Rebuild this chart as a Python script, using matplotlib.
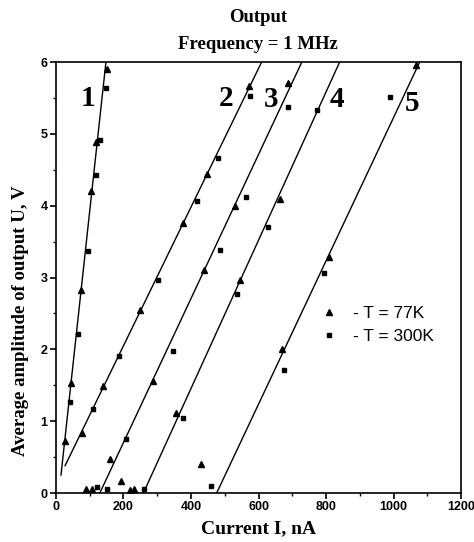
import matplotlib.pyplot as plt
from matplotlib.ticker import MultipleLocator

# T = 77K points (triangles)
t77_x = [27, 46, 73, 104, 120, 150,
         78, 138, 249, 377, 446, 573,
         160, 288, 439, 530, 688,
         356, 430, 545, 662,
         669, 810, 1067,
         89, 106, 193, 219, 232]
t77_y = [0.72, 1.53, 2.83, 4.20, 4.89, 5.90,
         0.83, 1.49, 2.55, 3.76, 4.44, 5.67,
         0.47, 1.56, 3.11, 4.00, 5.71,
         1.12, 0.40, 2.96, 4.10,
         2.00, 3.29, 5.96,
         0.05, 0.06, 0.17, 0.04, 0.05]

# T = 300K points (squares)
t300_x = [43, 65, 94, 120, 130, 147,
          111, 187, 303, 417, 479, 575,
          207, 346, 486, 563, 687,
          375, 458, 537, 627, 772,
          674, 794, 990,
          122, 150, 262]
t300_y = [1.27, 2.21, 3.37, 4.43, 4.92, 5.64,
          1.17, 1.91, 2.97, 4.06, 4.66, 5.53,
          0.75, 1.98, 3.38, 4.12, 5.38,
          1.05, 0.10, 2.77, 3.70, 5.34,
          1.71, 3.06, 5.51,
          0.09, 0.05, 0.06]

# fitted lines 1..5 (start and end)
fit_x0 = [15, 27, 130, 259, 476]
fit_y0 = [0.25, 0.38, 0.0, 0.0, 0.0]
fit_x1 = [148, 609, 728, 840, 1077]
fit_y1 = [6.0, 6.0, 6.0, 6.0, 6.0]

curve_names = ["1", "2", "3", "4", "5"]
name_x = [95, 504, 637, 833, 1055]
name_y = [5.50, 5.50, 5.48, 5.48, 5.43]

serif = "Liberation Serif"
sans = "Liberation Sans"

fig = plt.figure(figsize=(4.74, 5.42), dpi=100)
ax = fig.add_axes([0.118, 0.0904, 0.855, 0.795])

for i in range(len(fit_x0)):
    ax.plot([fit_x0[i], fit_x1[i]], [fit_y0[i], fit_y1[i]], color="black", lw=1.0)

ax.plot(t77_x, t77_y, "^", color="black", ms=4.5, ls="none", label="- T = 77K")
ax.plot(t300_x, t300_y, "s", color="black", ms=3.5, ls="none", label="- T = 300K")

for i in range(len(curve_names)):
    ax.text(name_x[i], name_y[i], curve_names[i], fontfamily=serif,
            fontweight="bold", fontsize=21, ha="center", va="center")

ax.set_xlim(0, 1200)
ax.set_ylim(0, 6)
ax.xaxis.set_major_locator(MultipleLocator(200))
ax.xaxis.set_minor_locator(MultipleLocator(100))
ax.yaxis.set_major_locator(MultipleLocator(1))
ax.yaxis.set_minor_locator(MultipleLocator(0.5))
ax.tick_params(which="major", length=4, width=1.2, direction="out", pad=2)
ax.tick_params(which="minor", length=2.5, width=1.0, direction="out")
for lab in ax.get_xticklabels() + ax.get_yticklabels():
    lab.set_fontfamily(sans)
    lab.set_fontweight("bold")
    lab.set_fontsize(9)
for s in ax.spines.values():
    s.set_linewidth(1.2)

ax.set_xlabel("Current I, nA", fontfamily=serif, fontweight="bold", fontsize=14, labelpad=5)
ax.set_ylabel("Average amplitude of output U, V", fontfamily=serif, fontweight="bold",
              fontsize=13.5)
ax.yaxis.set_label_coords(-0.066, 0.40)

fig.text(0.545, 0.968, "Output", fontfamily=serif, fontweight="bold", fontsize=13.5,
         ha="center", va="center")
fig.text(0.545, 0.917, "Frequency = 1 MHz", fontfamily=serif, fontweight="bold", fontsize=13.5,
         ha="center", va="center")

leg = ax.legend(loc="center left", bbox_to_anchor=(0.613, 0.39), frameon=False,
                prop={"family": sans, "size": 12.5}, handlelength=1.0, handletextpad=0.9,
                labelspacing=0.45)

fig.savefig("out.png", dpi=100)
